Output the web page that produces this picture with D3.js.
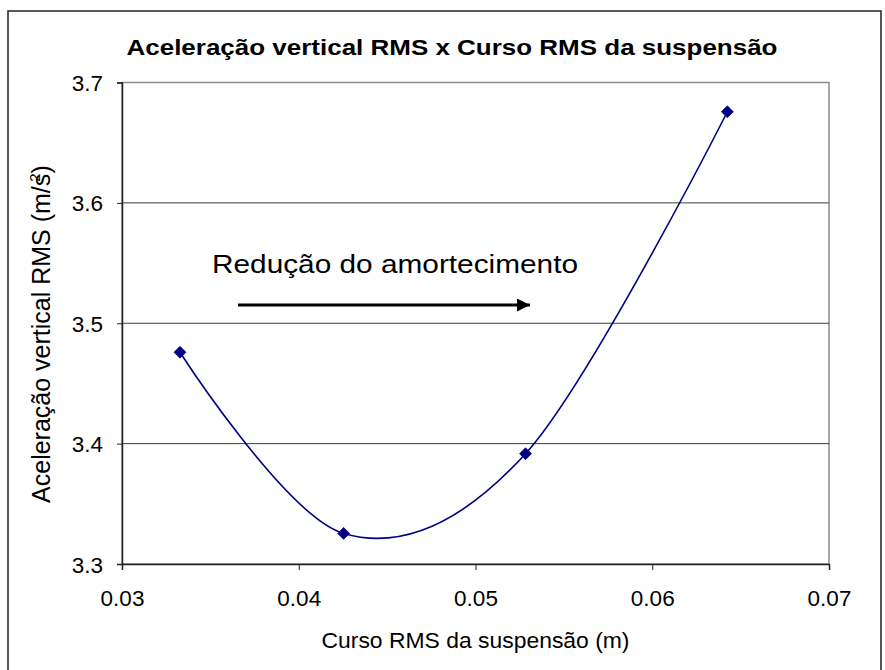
<!DOCTYPE html>
<html>
<head>
<meta charset="utf-8">
<script src="https://cdn.jsdelivr.net/npm/d3@7"></script>
<style>
  html, body { margin: 0; padding: 0; background: #fff; }
  svg { display: block; }
  text { font-family: Arial, "Liberation Sans", sans-serif; fill: #000; }
</style>
</head>
<body>
<svg id="chart" width="885" height="670"></svg>
<script>
// Suspension RMS travel (m) vs. vertical RMS acceleration (m/s²)
const curso = [0.03328, 0.04254, 0.05283, 0.06425];
const aceleracao = [3.4759, 3.3254, 3.3916, 3.6757];
const xTicks = [0.03, 0.04, 0.05, 0.06, 0.07];
const yTicks = [3.3, 3.4, 3.5, 3.6, 3.7];

const title = "Aceleração vertical RMS x Curso RMS da suspensão";
const xTitle = "Curso RMS da suspensão (m)";
const yTitle = "Aceleração vertical RMS (m/s";
const annotation = "Redução do amortecimento";

const svg = d3.select("#chart");
const plot = { left: 122, right: 829, top: 82.5, bottom: 564 };

const x = d3.scaleLinear().domain([0.03, 0.07]).range([plot.left, plot.right]);
const y = d3.scaleLinear().domain([3.3, 3.7]).range([plot.bottom, plot.top]);

// chart area frame
svg.append("path")
  .attr("d", `M8,672 L8,11 L881,11 L881,672`)
  .attr("fill", "none").attr("stroke", "#222").attr("stroke-width", 1.5);

// plot area
svg.append("rect")
  .attr("x", plot.left).attr("y", plot.top)
  .attr("width", plot.right - plot.left).attr("height", plot.bottom - plot.top)
  .attr("fill", "#fff").attr("stroke", "#8c8c8c").attr("stroke-width", 1.5);

// horizontal gridlines
svg.append("g").selectAll("line")
  .data(yTicks.filter(v => v > 3.3 && v < 3.7))
  .join("line")
  .attr("x1", plot.left).attr("x2", plot.right)
  .attr("y1", d => y(d)).attr("y2", d => y(d))
  .attr("stroke", "#3c3c3c").attr("stroke-width", 1);

// axes
const yAxis = svg.append("g")
  .attr("transform", `translate(${plot.left},0)`)
  .call(d3.axisLeft(y).tickValues(yTicks).tickFormat(d3.format(".1f")).tickSize(5).tickPadding(14));
const xAxis = svg.append("g")
  .attr("transform", `translate(0,${plot.bottom})`)
  .call(d3.axisBottom(x).tickValues(xTicks).tickFormat(d3.format(".2f")).tickSize(6).tickPadding(20));

[yAxis, xAxis].forEach(g => {
  g.select(".domain").attr("stroke", "#222").attr("stroke-width", 1.5);
  g.selectAll(".tick line").attr("stroke", "#222").attr("stroke-width", 1);
  g.selectAll(".tick text")
    .style("font-family", "Arial, 'Liberation Sans', sans-serif")
    .style("font-size", "22.5px").attr("fill", "#000");
});
yAxis.selectAll(".tick text").attr("dy", "0.36em");
xAxis.selectAll(".tick text").attr("dy", "0.71em");

// smoothed series line
const pts = curso.map((c, i) => [c, aceleracao[i]]);
svg.append("path")
  .datum(pts)
  .attr("fill", "none").attr("stroke", "#000080").attr("stroke-width", 1.6)
  .attr("d", d3.line().x(d => x(d[0])).y(d => y(d[1])).curve(d3.curveCardinal.tension(0)));

// diamond markers
svg.append("g").selectAll("path")
  .data(pts)
  .join("path")
  .attr("transform", d => `translate(${x(d[0])},${y(d[1])})`)
  .attr("d", d3.symbol().type(d3.symbolDiamond2).size(90))
  .attr("fill", "#000080").attr("stroke", "#000080").attr("stroke-width", 0.8);

// titles
svg.append("text")
  .attr("x", 452).attr("y", 55)
  .attr("text-anchor", "middle")
  .attr("textLength", 651).attr("lengthAdjust", "spacingAndGlyphs")
  .style("font-size", "22px").style("font-weight", "bold")
  .text(title);

svg.append("text")
  .attr("x", x(0.05)).attr("y", 648)
  .attr("text-anchor", "middle")
  .attr("textLength", 308).attr("lengthAdjust", "spacingAndGlyphs")
  .style("font-size", "22.5px")
  .text(xTitle);

const yt = svg.append("text")
  .attr("transform", `translate(50,${334}) rotate(-90)`)
  .attr("text-anchor", "middle")
  .style("font-size", "25px");
yt.append("tspan").text(yTitle);
yt.append("tspan").attr("dy", -10).attr("dx", -8).style("font-size", "15px").text("2");
yt.append("tspan").attr("dy", 10).text(")");

// annotation with arrow
svg.append("defs").append("marker")
  .attr("id", "arrowhead")
  .attr("viewBox", "0 0 10 10").attr("refX", 10).attr("refY", 5)
  .attr("markerUnits", "userSpaceOnUse")
  .attr("markerWidth", 16).attr("markerHeight", 13)
  .attr("orient", "auto")
  .append("path").attr("d", "M0,0 L10,5 L0,10 Z").attr("fill", "#000");

svg.append("line")
  .attr("x1", 238).attr("y1", 305).attr("x2", 530).attr("y2", 305)
  .attr("stroke", "#000").attr("stroke-width", 3)
  .attr("marker-end", "url(#arrowhead)");

svg.append("text")
  .attr("x", 212).attr("y", 273)
  .attr("textLength", 366).attr("lengthAdjust", "spacingAndGlyphs")
  .style("font-size", "25px")
  .text(annotation);
</script>
</body>
</html>
